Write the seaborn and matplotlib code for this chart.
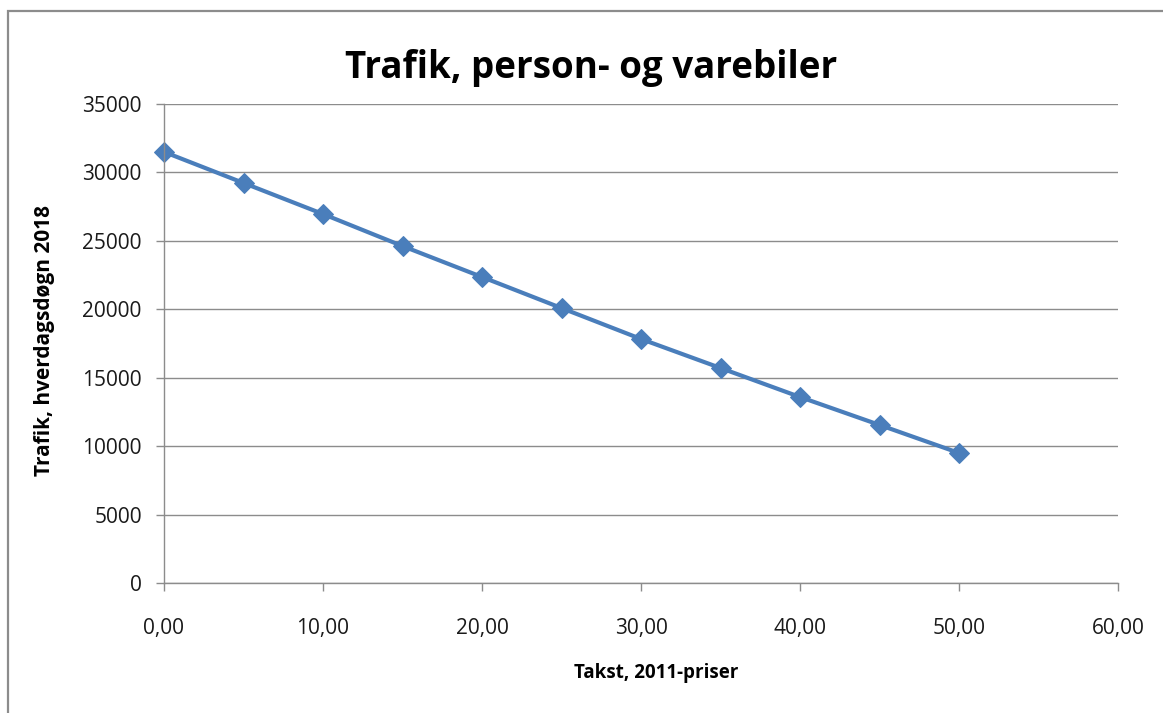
import matplotlib
matplotlib.use("Agg")
import matplotlib.pyplot as plt
import matplotlib.ticker as mticker
from matplotlib.patches import Rectangle
import seaborn as sns
import pandas as pd

takst = [0, 5, 10, 15, 20, 25, 30, 35, 40, 45, 50]
trafik = [31500, 29230, 26960, 24620, 22360, 20090, 17830, 15710, 13590, 11550, 9500]
title = "Trafik, person- og varebiler"
xlabel = "Takst, 2011-priser"
ylabel = "Trafik, hverdagsdøgn 2018"

sns.set_theme(style="white")
plt.rcParams['font.family'] = ['Open Sans', 'DejaVu Sans']

df = pd.DataFrame({"takst": takst, "trafik": trafik})

fig = plt.figure(figsize=(11.63, 7.13), dpi=100)
W, H = 1163, 713
ax = fig.add_axes([164 / W, 1 - 583 / H, (1118 - 164) / W, (583 - 104) / H])

# outer chart frame (only top/left visible)
fig.patches.append(Rectangle((8 / W, -0.1), 1.2, (1 - 11 / H) + 0.1,
                             transform=fig.transFigure, fill=False,
                             edgecolor="#8c8c8c", linewidth=1.6))

sns.lineplot(data=df, x="takst", y="trafik", ax=ax, color="#4a7ebb",
             linewidth=3, marker="D", markersize=10, markeredgecolor="#4a7ebb",
             clip_on=False)

ax.set_xlim(0, 60)
ax.set_ylim(0, 35000)
ax.set_xticks(range(0, 61, 10))
ax.set_yticks(range(0, 35001, 5000))
ax.xaxis.set_major_formatter(mticker.FuncFormatter(lambda v, p: f"{v:.2f}".replace(".", ",")))
ax.yaxis.set_major_formatter(mticker.FuncFormatter(lambda v, p: f"{int(v)}"))

ax.grid(axis="y", color="#8c8c8c", linewidth=1)
ax.grid(axis="x", visible=False)
ax.set_axisbelow(True)
for s in ["top", "right"]:
    ax.spines[s].set_visible(False)
for s in ["left", "bottom"]:
    ax.spines[s].set_color("#8c8c8c")
    ax.spines[s].set_linewidth(1)
ax.tick_params(axis="both", which="major", direction="out", length=6, width=1,
               color="#8c8c8c", labelsize=15, labelcolor="#1a1a1a",
               left=True, bottom=True)
ax.tick_params(axis="x", pad=19)
ax.tick_params(axis="y", pad=10)

fig.text(591 / W, 1 - 78 / H, title, fontsize=26.5, fontweight="bold",
         ha="center", va="baseline", color="black")
ax.set_xlabel(xlabel, fontsize=13.5, fontweight="bold", color="black", va="center")
ax.xaxis.set_label_coords(0.5 + (656 - 641) / 954, -(673 - 583) / 479)
ax.set_ylabel(ylabel, fontsize=15, fontweight="bold", color="black", va="center")
ax.yaxis.set_label_coords(-(164 - 45) / 954, 0.5 + (343.5 - 341) / 479)

fig.savefig("out.png", dpi=100, facecolor="white")
